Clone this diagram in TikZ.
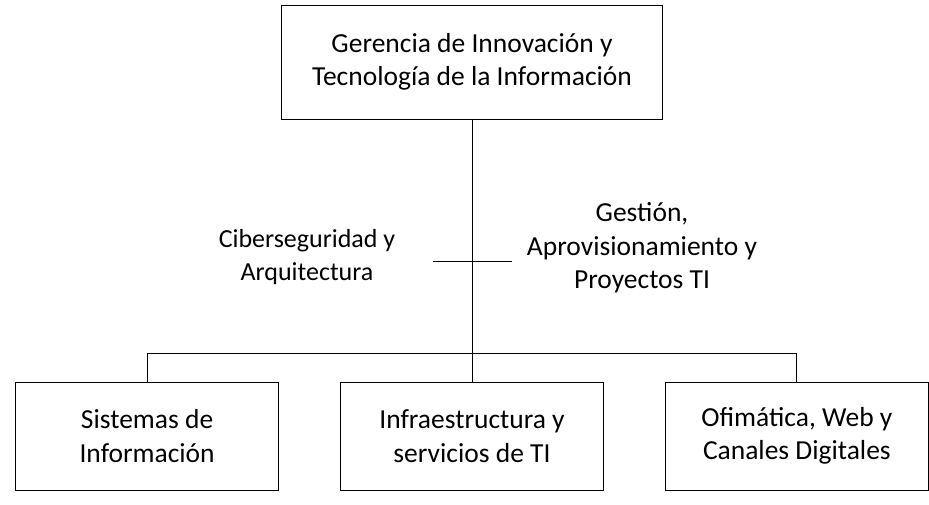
\documentclass[tikz,border=0pt]{standalone}
\usepackage{fontspec}
\setmainfont{Carlito}
\usepackage{tikz}
\usetikzlibrary{positioning}

\tikzset{
  unit/.style={draw, line width=0.9pt, align=center, minimum width=263pt, minimum height=108pt, inner sep=0pt},
  label/.style={align=center, inner sep=0pt},
  every edge/.style={draw, line width=0.9pt}
}

\begin{document}
\begin{tikzpicture}[x=1pt,y=1pt,font=\fontsize{27.5}{33.5}\selectfont]

  \useasboundingbox (0,0) rectangle (929,505);

  \node[unit, minimum width=381pt, minimum height=114pt] (ger) at (472,443) {Gerencia de Innovación y\\Tecnología de la Información};
  \node[unit] (infra) at (472,69) {Infraestructura y\\servicios de TI};
  \node[unit] (sis) [left=61pt of infra] {Sistemas de\\Información};
  \node[unit] (ofi) [right=61pt of infra] {Ofimática, Web y\\Canales Digitales};

  \node[label, font=\fontsize{26}{33}\selectfont] (ciber) at (307,248) {Ciberseguridad y\\Arquitectura};
  \node[label] (gest) at (642,257) {Gestión,\\Aprovisionamiento y\\Proyectos TI};

  \coordinate (bus) at (472,152);
  \coordinate (crossL) at (433,244);
  \coordinate (crossR) at (512,244);

  \path[] (ger) edge (infra);
  \path[] (crossL) edge (crossR);
  \path[] (sis.north) edge (sis.north |- bus);
  \path[] (sis.north |- bus) edge (ofi.north |- bus);
  \path[] (ofi.north |- bus) edge (ofi.north);

\end{tikzpicture}
\end{document}
